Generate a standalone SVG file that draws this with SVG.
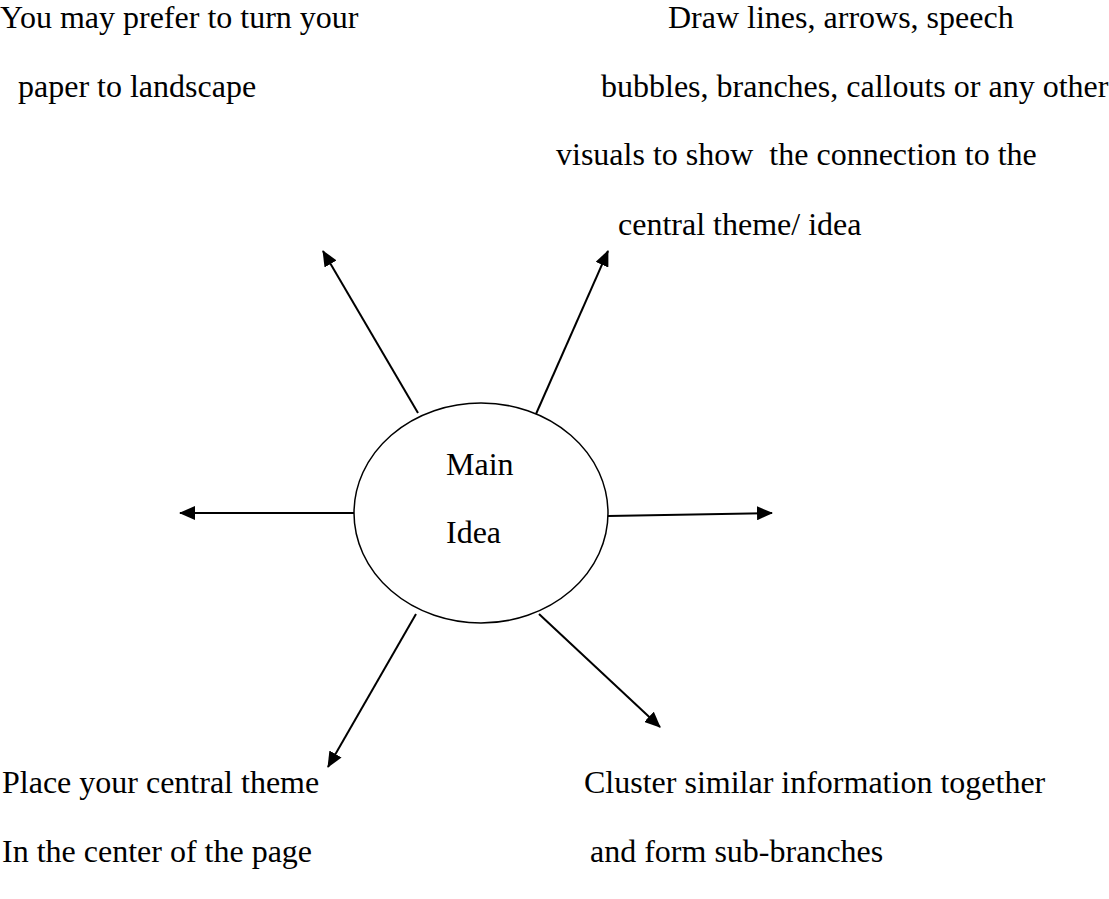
<svg xmlns="http://www.w3.org/2000/svg" width="1109" height="899" viewBox="0 0 1109 899">
  <style>
    .t { font-family: "Liberation Serif", "Times New Roman", serif; font-size: 32px; fill: #000; }
    .c { stroke: #000; stroke-width: 2; fill: none; marker-end: url(#ah); }
  </style>
  <defs>
    <marker id="ah" markerUnits="userSpaceOnUse" markerWidth="16" markerHeight="14" refX="15" refY="7" orient="auto">
      <path d="M0,0 L16,7 L0,14 z" fill="#000"/>
    </marker>
  </defs>
  <rect width="1109" height="899" fill="#fff"/>

  <g id="note-top-left">
    <text class="t" x="0" y="28">You may prefer to turn your</text>
    <text class="t" x="18" y="97">paper to landscape</text>
  </g>
  <g id="note-top-right">
    <text class="t" x="668" y="28">Draw lines, arrows, speech</text>
    <text class="t" x="601" y="97">bubbles, branches, callouts or any other</text>
    <text class="t" x="556" y="165" xml:space="preserve">visuals to show  the connection to the</text>
    <text class="t" x="618" y="235">central theme/ idea</text>
  </g>
  <g id="note-bottom-left">
    <text class="t" x="2" y="793">Place your central theme</text>
    <text class="t" x="2" y="862">In the center of the page</text>
  </g>
  <g id="note-bottom-right">
    <text class="t" x="584" y="793">Cluster similar information together</text>
    <text class="t" x="590" y="862">and form sub-branches</text>
  </g>

  <g id="connectors">
    <line class="c" x1="418" y1="413" x2="323" y2="251"/>
    <line class="c" x1="536" y1="414" x2="608" y2="251"/>
    <line class="c" x1="354" y1="513" x2="180" y2="513"/>
    <line class="c" x1="608" y1="516" x2="772" y2="513"/>
    <line class="c" x1="416" y1="614" x2="328" y2="767"/>
    <line class="c" x1="539" y1="614" x2="660" y2="727"/>
  </g>

  <g id="main-idea">
    <ellipse cx="481" cy="513" rx="127" ry="110" fill="#fff" stroke="#000" stroke-width="1.5"/>
    <text class="t" x="446" y="475">Main</text>
    <text class="t" x="446" y="543">Idea</text>
  </g>
</svg>
